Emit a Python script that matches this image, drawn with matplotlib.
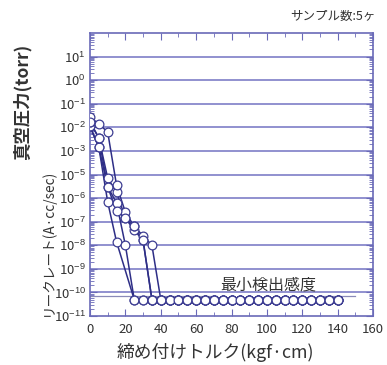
import numpy as np
import matplotlib
matplotlib.use('Agg')
import matplotlib.pyplot as plt

plt.rcParams['font.family'] = ['Noto Sans CJK JP', 'DejaVu Sans']
plt.rcParams['mathtext.fontset'] = 'custom'
plt.rcParams['mathtext.rm'] = 'Liberation Sans'
plt.rcParams['mathtext.it'] = 'Liberation Sans:italic'

# ---- data ----
x_ticks = [0, 20, 40, 60, 80, 100, 120, 140, 160]
y_tick_labels = ['10$^{-11}$', '10$^{-10}$', '10$^{-9}$', '10$^{-8}$', '10$^{-7}$',
                 '10$^{-6}$', '10$^{-5}$', '10$^{-3}$', '10$^{-2}$', '10$^{-1}$',
                 '10$^{0}$', '10$^{1}$']

# vacuum pressure (torr) part of each sample
A_press_t = [0, 5];      A_press = [1.1e-2, 1.4e-3]
B_press_t = [0, 5];      B_press = [1.1e-2, 1.4e-3]
C_press_t = [0, 5];      C_press = [1.7e-2, 3.5e-3]
D_press_t = [0, 5, 10];  D_press = [2.7e-2, 1.4e-2, 6.3e-3]
E_press_t = [0, 5];      E_press = [1.7e-2, 3.5e-3]

# leak rate (A·cc/sec) part of each sample
A_leak_t = [10, 15];                 A_leak = [6.8e-7, 1.4e-8]
B_leak_t = [10, 15, 20];             B_leak = [3.0e-6, 6.2e-7, 1.0e-8]
C_leak_t = [10, 15, 20, 25, 30];     C_leak = [7.0e-6, 1.8e-6, 1.4e-7, 4.4e-8, 1.6e-8]
D_leak_t = [15, 20, 25, 30, 35];     D_leak = [3.5e-6, 2.5e-7, 6.3e-8, 2.5e-8, 1.0e-8]
E_leak_t = [10, 15, 20, 25, 30];     E_leak = [3.0e-6, 2.8e-7, 1.4e-7, 6.3e-8, 1.6e-8]

# below detection limit points
floor_torque = [25, 30, 35, 40, 45, 50, 55, 60, 65, 70, 75, 80, 85, 90, 95, 100,
                105, 110, 115, 120, 125, 130, 135, 140]
floor_leak = 5e-11
floor_start = {'A': 25, 'B': 25, 'C': 35, 'D': 40, 'E': 35}
detection_limit = 7e-11

samples = {
    'A': (A_press_t, A_press, A_leak_t, A_leak),
    'B': (B_press_t, B_press, B_leak_t, B_leak),
    'C': (C_press_t, C_press, C_leak_t, C_leak),
    'D': (D_press_t, D_press, D_leak_t, D_leak),
    'E': (E_press_t, E_press, E_leak_t, E_leak),
}

# combined axis: leak decades 1e-11..1e-5 -> 0..6, pressure decades 1e-3..1e1 -> 7..11
def press_pos(v):
    return np.log10(np.asarray(v, dtype=float)) + 10

def leak_pos(v):
    return np.log10(np.asarray(v, dtype=float)) + 11

line_col = '#2e2e86'
edge_col = '#3d3d92'
grid_col = '#7373c2'
spine_col = '#6a6ab8'

fig = plt.figure(figsize=(3.87, 3.65), dpi=100)
ax = fig.add_axes([0.2326, 0.1342, 0.7312, 0.7754])

for key, (pt, pv, lt, lv) in samples.items():
    ft = [t for t in floor_torque if t >= floor_start[key]]
    xs = list(pt) + list(lt) + ft
    ys = list(press_pos(pv)) + list(leak_pos(lv)) + list(leak_pos([floor_leak] * len(ft)))
    ax.plot(xs, ys, color=line_col, lw=1.1, zorder=3)
    ax.plot(xs, ys, ls='none', marker='o', ms=6.3, mfc='white', mec=edge_col,
            mew=0.9, zorder=4)

# grid lines
for k in range(1, 12):
    ax.axhline(k, color=grid_col, lw=1.1, zorder=1)

# detection limit line with label
dl = float(leak_pos(detection_limit))
ax.plot([0, 72], [dl, dl], color='#8a8ab8', lw=0.9, zorder=2)
ax.plot([132, 150], [dl, dl], color='#8a8ab8', lw=0.9, zorder=2)
ax.text(101, dl + 0.1, '最小検出感度', ha='center', va='bottom', fontsize=11.5,
        color='#333333', zorder=5)

ax.set_xlim(0, 160)
ax.set_ylim(0, 12)
ax.set_xticks(x_ticks)
ax.set_xticks([10, 30, 50, 70, 90, 110, 130, 150], minor=True)
ax.set_yticks(range(12))
ax.set_yticklabels(y_tick_labels)
minor_y = [k + np.log10(m) for k in range(12) for m in range(2, 10)]
ax.set_yticks(minor_y, minor=True)
ax.tick_params(axis='both', which='both', direction='in', top=True, right=True,
               color=spine_col, labelcolor='#333333', labelsize=9.5)
ax.tick_params(axis='both', which='major', length=5, width=0.8)
ax.tick_params(axis='both', which='minor', length=3, width=0.6)
ax.tick_params(axis='x', pad=5)
ax.tick_params(axis='y', pad=3)
for s in ax.spines.values():
    s.set_color(spine_col)
    s.set_linewidth(1.2)

fig.text(0.057, 0.72, '真空圧力(torr)', rotation=90, ha='center', va='center',
         fontsize=12.5, color='#333333', fontweight='bold')
fig.text(0.122, 0.335, 'リークレート(A·cc/sec)', rotation=90, ha='center', va='center',
         fontsize=9.8, color='#333333')
fig.text(0.555, 0.033, '締め付けトルク(kgf·cm)', ha='center', va='center',
         fontsize=12.8, color='#333333')
fig.text(0.97, 0.955, 'サンプル数:5ヶ', ha='right', va='center', fontsize=9,
         color='#333333')

fig.savefig('out.png', dpi=100)
